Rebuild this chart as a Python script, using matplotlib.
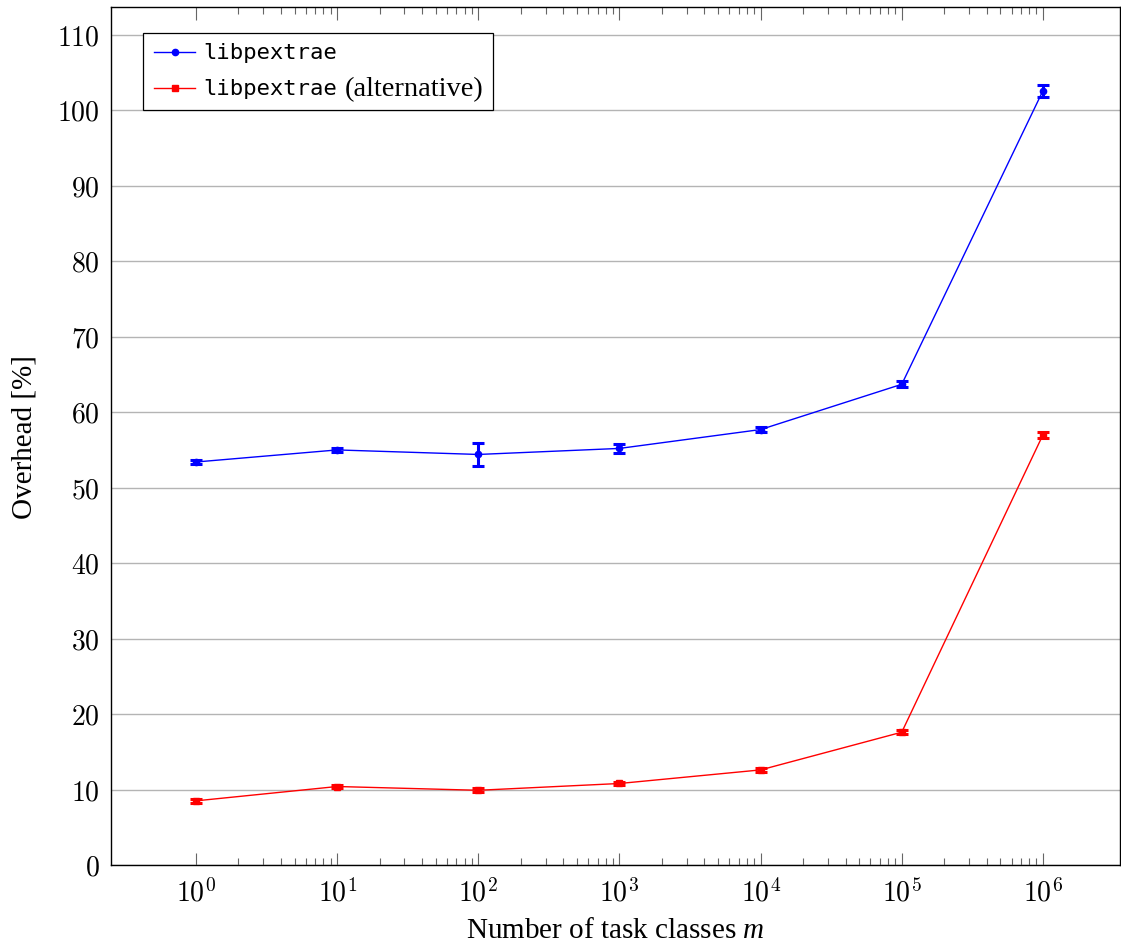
import matplotlib
matplotlib.use("Agg")
import matplotlib.pyplot as plt
from matplotlib.lines import Line2D
from matplotlib.offsetbox import AnchoredOffsetbox, VPacker, HPacker, TextArea, DrawingArea
import numpy as np

m = [1e0, 1e1, 1e2, 1e3, 1e4, 1e5, 1e6]
lib = [53.4, 55.0, 54.4, 55.2, 57.7, 63.7, 102.6]
lib_err = [0.3, 0.3, 1.5, 0.6, 0.3, 0.4, 0.8]
alt = [8.5, 10.4, 9.9, 10.8, 12.6, 17.6, 57.0]
alt_err = [0.25, 0.25, 0.25, 0.25, 0.25, 0.25, 0.4]

yticks = [0, 10, 20, 30, 40, 50, 60, 70, 80, 90, 100, 110]
xtick_exp = [0, 1, 2, 3, 4, 5, 6]

plt.rcParams['font.family'] = 'Liberation Serif'
plt.rcParams['mathtext.fontset'] = 'custom'
plt.rcParams['mathtext.rm'] = 'Liberation Serif'
plt.rcParams['mathtext.it'] = 'Liberation Serif:italic'

fig = plt.figure(figsize=(11.21, 9.45), dpi=100)
ax = fig.add_axes([0.099, 0.0836, 0.900, 0.908])

ax.errorbar(m, lib, yerr=lib_err, color='#0000ff', marker='o', ms=4.5, lw=1,
            elinewidth=2.2, capsize=4, capthick=2.2, zorder=3)
ax.errorbar(m, alt, yerr=alt_err, color='#ff0000', marker='s', ms=4.5, lw=1,
            elinewidth=2.2, capsize=4, capthick=2.2, zorder=3)

ax.set_xscale('log')
ax.set_xlim(10 ** -0.602, 10 ** 6.545)
ax.set_ylim(0, 113.7)
ax.set_yticks(yticks)
ax.set_yticklabels(['$%d$' % v for v in yticks])
ax.set_xticks([10.0 ** e for e in xtick_exp])
ax.set_xticklabels(['$10^{%d}$' % e for e in xtick_exp])
minors = [s * 10.0 ** e for e in range(0, 6) for s in range(2, 10)]
ax.xaxis.set_minor_locator(matplotlib.ticker.FixedLocator(minors))
ax.xaxis.set_minor_formatter(matplotlib.ticker.NullFormatter())

ax.grid(axis='y', color='#b4b4b4', lw=1)
ax.set_axisbelow(True)
ax.tick_params(axis='x', which='major', direction='in', length=9, width=0.8, color='#666666',
               labelsize=20, pad=9, top=True)
ax.tick_params(axis='x', which='minor', direction='in', length=5, width=0.8, color='#666666', top=True)
ax.tick_params(axis='y', which='major', direction='in', length=0, labelsize=20, pad=8)
for s in ax.spines.values():
    s.set_linewidth(1)

ax.set_xlabel('Number of task classes $m$', fontsize=21, labelpad=8)
ax.set_ylabel('Overhead [%]', fontsize=21, labelpad=14)

# legend: mono name + serif suffix, built from offset boxes
def legend_key(color, marker):
    da = DrawingArea(31, 12, 0, 0)
    da.add_artist(Line2D([1.5, 31], [6, 6], color=color, lw=1))
    da.add_artist(Line2D([16.25], [6], color=color, marker=marker, ms=4.5, lw=0))
    return da

mono = dict(family='DejaVu Sans Mono', size=16)
serif = dict(family='Liberation Serif', size=20.5)
row1 = HPacker(children=[legend_key('#0000ff', 'o'), TextArea('libpextrae', textprops=mono)],
               align='center', pad=0, sep=5.8)
row2 = HPacker(children=[legend_key('#ff0000', 's'), TextArea('libpextrae', textprops=mono),
                         TextArea('(alternative)', textprops=serif)],
               align='center', pad=0, sep=5.8)
rows = VPacker(children=[row1, row2], align='left', pad=0, sep=10)
box = AnchoredOffsetbox(loc='upper left', child=rows, pad=0.65, borderpad=0, frameon=True,
                        bbox_to_anchor=(0.0317, 0.9697), bbox_transform=ax.transAxes,
                        prop=dict(size=10))
box.patch.set_boxstyle('square', pad=0)
box.patch.set_edgecolor('black')
box.patch.set_linewidth(0.9)
box.set_zorder(5)
ax.add_artist(box)

fig.canvas.draw()
for lbl in ax.get_xticklabels() + ax.get_yticklabels():
    lbl.set_math_fontfamily('cm')

fig.savefig('out.png', dpi=100)
